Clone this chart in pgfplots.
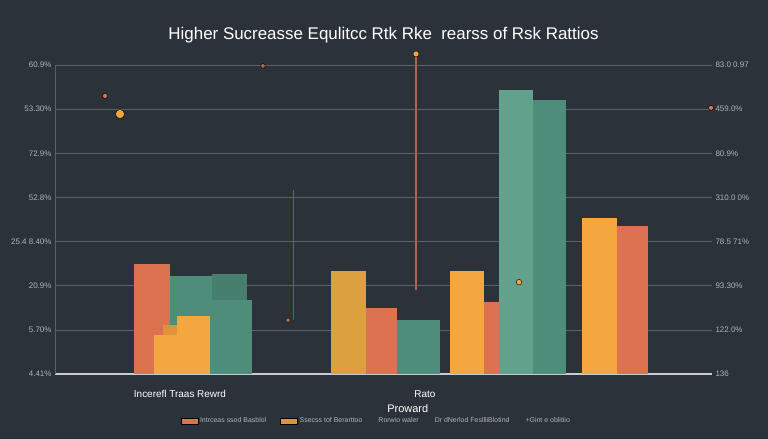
\documentclass[border=0pt]{standalone}
\usepackage{pgfplots}
\pgfplotsset{compat=1.18}
\usepackage{fontspec}
\setmainfont{Liberation Sans}
\definecolor{bg}{HTML}{2B3239}
\definecolor{cRed}{HTML}{DD7250}
\definecolor{cTeal}{HTML}{4E8D79}
\definecolor{cTealD}{HTML}{467F6D}
\definecolor{cTealL}{HTML}{62A18C}
\definecolor{cOrange}{HTML}{F4A63F}
\definecolor{cOrangeD}{HTML}{E0933A}
\definecolor{cMustard}{HTML}{DCA03E}
\definecolor{gridc}{HTML}{5A6168}
\definecolor{ticklbl}{HTML}{AEB4BA}
\definecolor{axisc}{HTML}{C8CDD2}
\definecolor{linec}{HTML}{A9674F}
\pgfplotsset{br/.style={ybar, bar shift=0pt, draw=none, forget plot}}
\begin{document}
\begin{tikzpicture}
\fill[bg] (0bp,0bp) rectangle (768bp,439bp);
\begin{axis}[
  at={(55bp,65bp)}, anchor=south west,
  scale only axis, width=657bp, height=309bp,
  xmin=55, xmax=712, ymin=0, ymax=7, clip=false,
  axis x line*=bottom, axis y line*=left,
  axis line style={-},
  x axis line style={draw=axisc, line width=1.3pt},
  y axis line style={draw=gridc, line width=0.6pt},
  major tick length=0pt,
  ytick={0,1,2,3,4,5,6,7},
  yticklabels={4.41\%, 5.70\%, 20.9\%, 25.4 8.40\%, 52.8\%, 72.9\%, 53.30\%, 60.9\%},
  yticklabel style={font=\fontsize{8}{9}\selectfont, text=ticklbl},
  ymajorgrids, grid style={draw=gridc, line width=0.6pt},
  xtick={180,425},
  xticklabels={Incerefl Traas Rewrd, Rato},
  xticklabel style={font=\fontsize{10}{12}\selectfont, text=white!92, anchor=base, yshift=-23bp},
  xlabel={Proward},
  xlabel style={at={(axis description cs:0.537,0)}, anchor=base, yshift=-38bp, font=\fontsize{11}{13}\selectfont, text=white!92},
  title={Higher Sucreasse Equlitcc Rtk Rke\ \ rearss of Rsk Rattios},
  title style={at={(axis description cs:0.5,1)}, anchor=base, yshift=20bp, font=\fontsize{17}{19}\selectfont, text=white!90},
  legend style={at={(axis description cs:0.489,0)}, anchor=center, yshift=-47bp, draw=none, fill=none,
    font=\fontsize{7}{8}\selectfont, text=ticklbl, legend columns=5,
    /tikz/every even column/.append style={column sep=12bp}},
]
% group 1
\addplot[br, fill=cRed, bar width=36] coordinates {(152,2.49)};
\addplot[br, fill=cTeal, bar width=42] coordinates {(191,2.22)};
\addplot[br, fill=cTealD, bar width=35] coordinates {(229.5,2.27)};
\addplot[br, fill=cTeal, bar width=43] coordinates {(230.5,1.68)};
\addplot[br, fill=cOrangeD, bar width=15] coordinates {(170.5,1.11)};
\addplot[br, fill=cOrange, bar width=23] coordinates {(165.5,0.88)};
\addplot[br, fill=cOrange, bar width=33] coordinates {(193.5,1.31)};
% group 2
\addplot[br, fill=cMustard, bar width=35] coordinates {(348.5,2.33)};
\addplot[br, fill=cRed, bar width=31] coordinates {(381.5,1.50)};
\addplot[br, fill=cTeal, bar width=43] coordinates {(418.5,1.22)};
% group 3
\addplot[br, fill=cOrange, bar width=34] coordinates {(467,2.33)};
\addplot[br, fill=cRed, bar width=25] coordinates {(496.5,1.63)};
\addplot[br, fill=cTealL, bar width=34] coordinates {(516,6.43)};
\addplot[br, fill=cTeal, bar width=33] coordinates {(549.5,6.21)};
% group 4
\addplot[br, fill=cOrange, bar width=35] coordinates {(599.5,3.53)};
\addplot[br, fill=cRed, bar width=31] coordinates {(632.5,3.35)};
% decorative lines and dots
\addplot[forget plot, draw=linec, line width=1.2pt] coordinates {(416,7.25) (416,1.90)};
\addplot[forget plot, draw=linec!70!bg, line width=1pt] coordinates {(293,4.17) (293,1.22)};
\addplot[forget plot, only marks, mark=*, mark size=3pt, mark options={fill=cOrange, draw=none}] coordinates {(416,7.25)};
\addplot[forget plot, only marks, mark=*, mark size=4.5pt, mark options={fill=cOrange, draw=none}] coordinates {(120,5.89)};
\addplot[forget plot, only marks, mark=*, mark size=2.5pt, mark options={fill=cRed, draw=none}] coordinates {(105,6.30) (711,6.03)};
\addplot[forget plot, only marks, mark=*, mark size=2.3pt, mark options={fill=linec, draw=none}] coordinates {(263,6.98) (288,1.22)};
\addplot[forget plot, only marks, mark=*, mark size=2.8pt, mark options={fill=cOrange, draw=none}] coordinates {(519,2.08)};
% legend
\addlegendimage{area legend, fill=cRed, draw=none}
\addlegendentry{Intrceas ssod Basblol}
\addlegendimage{area legend, fill=cOrangeD, draw=none}
\addlegendentry{Ssecss tof Berarttoo}
\addlegendimage{empty legend}
\addlegendentry{Rorwio waler}
\addlegendimage{empty legend}
\addlegendentry{Dr dNerlod FesllliBlotind}
\addlegendimage{empty legend}
\addlegendentry{+Gint e oblitiio}
\end{axis}
\begin{axis}[
  at={(55bp,65bp)}, anchor=south west,
  scale only axis, width=657bp, height=309bp,
  xmin=55, xmax=712, ymin=0, ymax=7,
  axis x line=none, axis y line*=right,
  y axis line style={draw=none},
  major tick length=0pt,
  ytick={0,1,2,3,4,5,6,7},
  yticklabels={136, 122.0\%, 93.30\%, 78.5 71\%, 310.0 0\%, 80.9\%, 459.0\%, 83.0 0.97},
  yticklabel style={font=\fontsize{8}{9}\selectfont, text=ticklbl},
]
\addplot[draw=none, forget plot] coordinates {(55,0)};
\end{axis}
\end{tikzpicture}
\end{document}
